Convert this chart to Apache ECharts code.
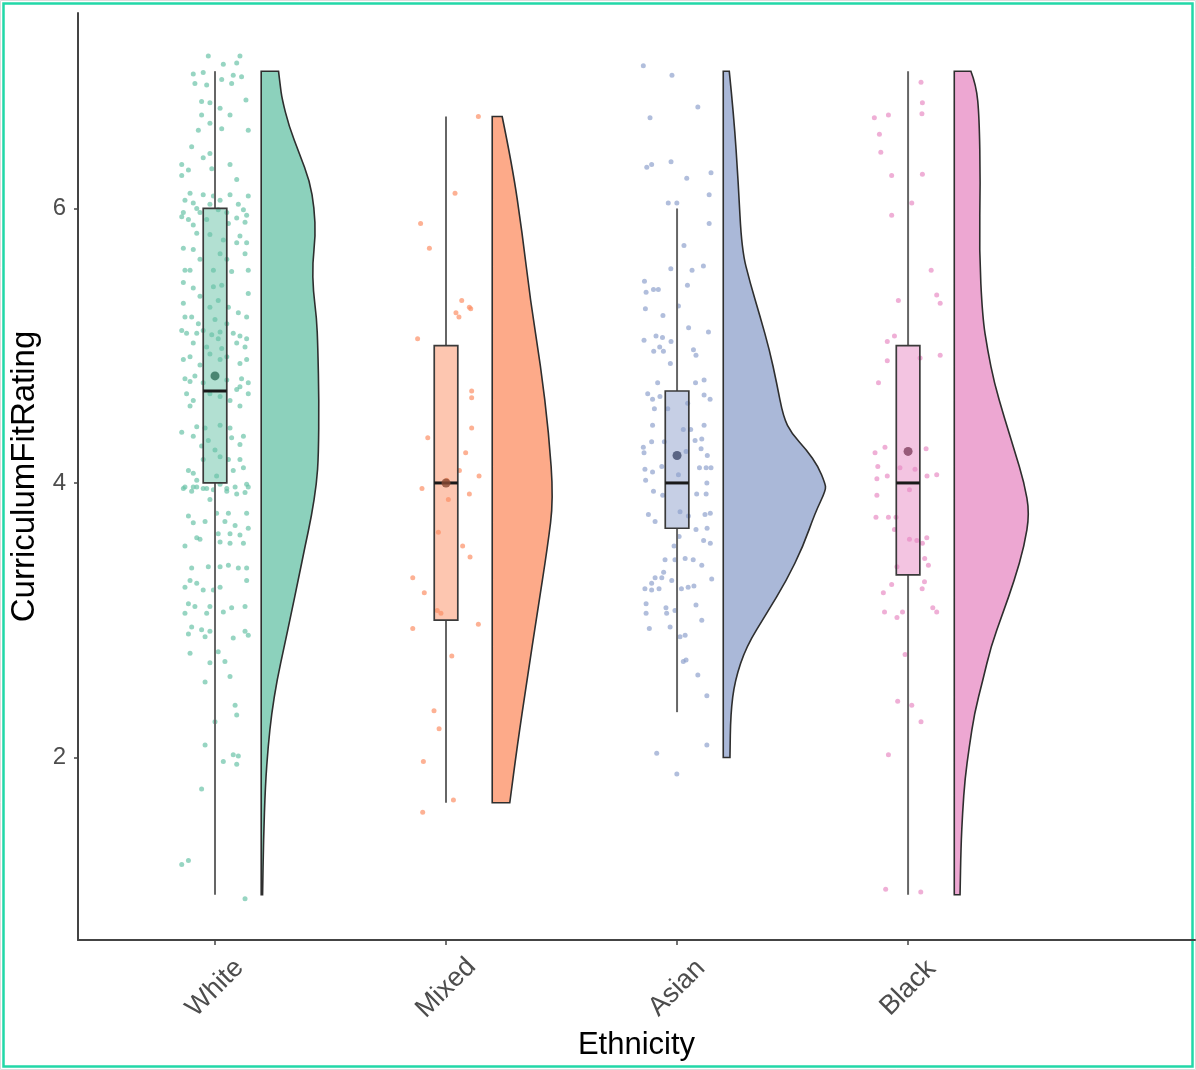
<!DOCTYPE html>
<html>
<head>
<meta charset="utf-8">
<script src="https://cdn.jsdelivr.net/npm/echarts@6/dist/echarts.min.js"></script>
<style>
  html, body { margin: 0; padding: 0; background: #fff; }
  #chart { width: 1196px; height: 1070px; }
</style>
</head>
<body>
<div id="chart"></div>
<script>
const categories = ['White', 'Mixed', 'Asian', 'Black']
const yTicks = [2, 4, 6]
const colors = ['#66C2A5', '#FC8D62', '#8DA0CB', '#E78AC3']
const meanColors = ['#2f6f5a', '#8a4a33', '#3f4a6b', '#80405f']

// box stats per group
const boxLow = [1, 1.67, 2.33, 1]
const boxQ1 = [4, 3, 3.67, 3.33]
const boxMedian = [4.67, 4, 4, 4]
const boxQ3 = [6, 5, 4.67, 5]
const boxHigh = [7, 6.67, 6, 7]
const groupMeans = [4.78, 4.0, 4.2, 4.23]

// half violins: [rating, half width in x units]
const whiteViolin = [[7.0, 0.075], [6.9, 0.082], [6.8, 0.09], [6.6, 0.12], [6.4, 0.165], [6.2, 0.21], [6.0, 0.23], [5.8, 0.235],
  [5.6, 0.222], [5.4, 0.225], [5.2, 0.24], [5.0, 0.245], [4.6, 0.25], [4.2, 0.248], [4.0, 0.24], [3.76, 0.218],
  [3.54, 0.19], [3.29, 0.16], [3.05, 0.13], [2.81, 0.1], [2.56, 0.068], [2.32, 0.045], [2.08, 0.03], [1.8, 0.018], [1.4, 0.01], [1.0, 0.006]]
const mixedViolin = [[6.67, 0.043], [6.31, 0.087], [5.82, 0.13], [5.33, 0.165], [4.85, 0.21], [4.36, 0.245], [3.88, 0.265],
  [3.54, 0.24], [3.05, 0.195], [2.56, 0.15], [2.08, 0.108], [1.67, 0.076]]
const asianViolin = [[7.0, 0.026], [6.67, 0.046], [6.19, 0.065], [5.7, 0.08], [5.46, 0.116], [5.21, 0.16], [4.97, 0.2],
  [4.73, 0.231], [4.48, 0.26], [4.36, 0.296], [4.24, 0.361], [4.12, 0.411], [4.0, 0.44], [3.95, 0.445], [3.78, 0.397],
  [3.54, 0.346], [3.29, 0.274], [3.05, 0.188], [2.81, 0.1], [2.56, 0.05], [2.32, 0.032], [2.0, 0.029]]
const blackViolin = [[7.0, 0.072], [6.9, 0.095], [6.67, 0.108], [6.19, 0.113], [5.7, 0.108], [5.21, 0.122], [4.97, 0.144],
  [4.73, 0.173], [4.48, 0.216], [4.24, 0.26], [4.0, 0.303], [3.78, 0.326], [3.54, 0.303], [3.29, 0.26], [3.05, 0.21],
  [2.81, 0.159], [2.56, 0.123], [2.32, 0.087], [2.08, 0.065], [1.84, 0.046], [1.6, 0.036], [1.35, 0.029], [1.0, 0.025]]
const violins = [whiteViolin, mixedViolin, asianViolin, blackViolin]

// jittered raw points: [x offset from group centre, rating]
const whitePoints = [[-0.029, 7.11], [0.108, 7.11], [0.094, 7.06], [0.036, 7.05], [-0.051, 6.99], [-0.094, 6.98], [0.079, 6.97],
  [-0.087, 6.91], [-0.036, 6.90], [0.029, 6.94], [0.072, 6.91], [0.115, 6.96], [-0.058, 6.78], [-0.022, 6.77], [0.134, 6.79],
  [0.022, 6.73], [0.065, 6.68], [-0.058, 6.68], [-0.022, 6.62], [0.029, 6.58], [-0.072, 6.57], [0.144, 6.57], [-0.101, 6.45],
  [-0.022, 6.40], [-0.051, 6.37], [0.065, 6.32], [-0.144, 6.32], [-0.115, 6.28], [-0.014, 6.29], [-0.144, 6.24], [0.094, 6.21],
  [-0.108, 6.11], [-0.051, 6.10], [-0.007, 6.09], [0.065, 6.10], [0.144, 6.09], [-0.13, 6.06], [-0.094, 6.04], [-0.022, 6.03],
  [0.022, 6.06], [0.101, 6.03], [0.123, 5.99], [-0.137, 5.97], [-0.079, 6.00], [0.051, 5.97], [0.137, 5.95], [-0.115, 5.92],
  [-0.036, 5.92], [0.094, 5.93], [0.13, 5.90], [-0.094, 5.88], [0.058, 5.89], [-0.144, 5.94], [-0.065, 5.97], [0.014, 5.99],
  [-0.079, 5.82], [-0.022, 5.81], [0.108, 5.80], [0.137, 5.75], [0.036, 5.77], [-0.137, 5.71], [-0.094, 5.70], [0.022, 5.67],
  [0.094, 5.75], [0.13, 5.67], [-0.065, 5.63], [0.051, 5.63], [-0.13, 5.55], [-0.108, 5.55], [-0.007, 5.55], [0.072, 5.54],
  [0.144, 5.55], [-0.137, 5.46], [-0.094, 5.42], [-0.007, 5.43], [0.029, 5.44], [0.144, 5.38], [-0.065, 5.36], [0.014, 5.33],
  [-0.137, 5.31], [-0.022, 5.28], [0.058, 5.28], [-0.101, 5.21], [-0.13, 5.21], [0.101, 5.24], [0.137, 5.21], [0, 5.19],
  [-0.072, 5.16], [0.051, 5.16], [-0.051, 5.11], [0.022, 5.10], [-0.144, 5.11], [-0.123, 5.09], [-0.079, 5.09], [-0.014, 5.08],
  [0.014, 5.05], [0.079, 5.09], [0.108, 5.07], [0.137, 5.05], [-0.094, 5.02], [-0.036, 4.99], [0.029, 4.98], [0.094, 5.02],
  [0.13, 4.99], [-0.108, 4.92], [-0.137, 4.90], [-0.022, 4.94], [0.051, 4.92], [-0.065, 4.86], [0.022, 4.90], [0.108, 4.87],
  [0.137, 4.90], [-0.13, 4.76], [-0.108, 4.74], [-0.087, 4.78], [-0.051, 4.73], [0.051, 4.75], [0.115, 4.76], [0.144, 4.73],
  [0.108, 4.70], [-0.123, 4.65], [-0.094, 4.60], [-0.022, 4.65], [0.022, 4.63], [0.094, 4.68], [0.144, 4.65], [0.065, 4.60],
  [-0.108, 4.56], [0.108, 4.56], [-0.144, 4.37], [-0.079, 4.41], [-0.043, 4.40], [0.022, 4.42], [0.065, 4.40], [0.123, 4.34],
  [-0.094, 4.34], [-0.029, 4.31], [0.072, 4.33], [-0.058, 4.27], [0, 4.24], [0.108, 4.28], [0.022, 4.19], [0.058, 4.17],
  [-0.051, 4.17], [0.108, 4.17], [-0.115, 4.09], [-0.094, 4.07], [-0.079, 4.02], [0.007, 4.05], [0.079, 4.09], [0.123, 4.11],
  [-0.13, 3.97], [-0.079, 3.97], [-0.036, 3.96], [0.022, 3.99], [0.087, 3.97], [0.137, 3.99], [-0.101, 3.94], [0.051, 3.94],
  [0.13, 3.93], [-0.137, 3.96], [-0.094, 3.97], [-0.051, 3.96], [-0.007, 3.95], [0.051, 3.96], [0.094, 3.92], [0.144, 3.97],
  [-0.022, 3.88], [-0.115, 3.76], [0.007, 3.78], [0.058, 3.78], [0.137, 3.78], [-0.094, 3.71], [-0.043, 3.72], [0.043, 3.72],
  [0.087, 3.69], [0.144, 3.67], [-0.13, 3.54], [-0.079, 3.60], [-0.065, 3.59], [0.014, 3.63], [0.065, 3.63], [0.108, 3.62],
  [0.123, 3.56], [0.022, 3.57], [0.065, 3.56], [-0.101, 3.38], [-0.029, 3.39], [0.022, 3.39], [0.058, 3.40], [0.101, 3.38],
  [0.137, 3.38], [-0.108, 3.29], [-0.079, 3.27], [-0.051, 3.22], [-0.007, 3.22], [0.022, 3.24], [0.137, 3.29], [-0.13, 3.24],
  [-0.115, 3.12], [-0.087, 3.10], [-0.022, 3.10], [-0.13, 3.05], [-0.036, 3.05], [0.036, 3.06], [0.072, 3.09], [0.13, 3.10],
  [-0.101, 2.95], [-0.058, 2.93], [-0.022, 2.92], [-0.115, 2.90], [-0.043, 2.88], [0.079, 2.87], [0.13, 2.92], [0.144, 2.89],
  [-0.108, 2.76], [0.014, 2.77], [-0.022, 2.69], [0.043, 2.70], [-0.043, 2.55], [0.065, 2.59], [0.087, 2.38], [0.094, 2.31],
  [0, 2.26], [-0.043, 2.09], [0.036, 1.97], [0.079, 2.02], [0.101, 2.01], [0.094, 1.95], [-0.058, 1.77], [-0.144, 1.22],
  [-0.115, 1.25], [0.13, 0.97]]
const mixedPoints = [[0.14, 6.67], [0.039, 6.11], [-0.11, 5.89], [-0.072, 5.71], [0.068, 5.33], [0.043, 5.24], [0.056, 5.21],
  [0.101, 5.28], [0.107, 5.27], [-0.123, 5.05], [0.111, 4.67], [0.111, 4.62], [0.111, 4.40], [-0.079, 4.33], [0.085, 4.22],
  [0.058, 4.09], [0.143, 4.05], [-0.104, 3.96], [0.003, 4.02], [0.101, 3.92], [0.01, 3.88], [-0.033, 3.64], [0.072, 3.54],
  [0.104, 3.46], [-0.144, 3.31], [-0.094, 3.20], [-0.038, 3.07], [-0.022, 3.05], [-0.144, 2.94], [0.14, 2.97], [0.025, 2.74],
  [-0.052, 2.34], [-0.03, 2.21], [-0.098, 1.97], [0.032, 1.69], [-0.101, 1.60]]
const asianPoints = [[-0.146, 7.04], [-0.022, 6.97], [0.09, 6.74], [-0.117, 6.66], [-0.131, 6.30], [-0.11, 6.32], [-0.026, 6.34],
  [0.042, 6.22], [0.147, 6.26], [0.139, 6.10], [-0.038, 6.04], [-0.001, 6.04], [0.139, 5.89], [0.03, 5.73], [-0.027, 5.56],
  [0.065, 5.55], [0.114, 5.58], [-0.141, 5.47], [-0.134, 5.39], [-0.102, 5.41], [-0.081, 5.41], [0.045, 5.44], [-0.137, 5.27],
  [-0.061, 5.22], [0.006, 5.29], [0.05, 5.13], [0.136, 5.10], [-0.143, 5.04], [-0.091, 5.07], [-0.063, 5.06], [-0.026, 5.03],
  [-0.101, 4.96], [-0.075, 4.99], [-0.059, 4.96], [0.071, 4.97], [0.082, 4.93], [-0.029, 4.87], [-0.084, 4.73], [0.08, 4.73],
  [0.117, 4.75], [-0.127, 4.65], [-0.106, 4.61], [-0.074, 4.63], [0.117, 4.64], [0.143, 4.61], [-0.098, 4.54], [-0.04, 4.54],
  [0.046, 4.58], [-0.106, 4.42], [0.027, 4.39], [0.059, 4.39], [0.117, 4.42], [-0.11, 4.30], [-0.055, 4.30], [0.107, 4.32],
  [0.078, 4.31], [-0.146, 4.26], [-0.143, 4.22], [0.104, 4.25], [0.131, 4.20], [0.039, 4.23], [-0.139, 4.10], [-0.106, 4.08],
  [-0.066, 4.12], [0.097, 4.11], [0.126, 4.11], [0.147, 4.11], [-0.136, 4.02], [-0.102, 3.94], [-0.062, 3.91], [0.006, 4.06],
  [0.085, 3.92], [0.126, 3.92], [0.129, 4.00], [-0.124, 3.77], [-0.095, 3.72], [0.013, 3.79], [0.049, 3.76], [0.121, 3.77],
  [0.144, 3.78], [0.082, 3.66], [0.13, 3.67], [0.009, 3.61], [0.115, 3.58], [0.144, 3.56], [-0.013, 3.54], [-0.052, 3.44],
  [-0.009, 3.44], [0.035, 3.45], [0.07, 3.44], [0.107, 3.40], [-0.058, 3.35], [-0.095, 3.31], [-0.066, 3.31], [-0.11, 3.27],
  [-0.023, 3.29], [0.15, 3.30], [-0.139, 3.23], [-0.11, 3.22], [-0.078, 3.23], [0.019, 3.23], [0.048, 3.24], [0.073, 3.25],
  [-0.134, 3.12], [-0.134, 3.05], [-0.048, 3.09], [-0.045, 3.05], [-0.009, 3.07], [0.082, 3.11], [0.107, 3.00], [-0.12, 2.94],
  [-0.03, 2.95], [0.013, 2.88], [0.035, 2.89], [0.027, 2.70], [0.039, 2.71], [0.09, 2.60], [0.129, 2.45], [0.129, 2.09],
  [-0.088, 2.03], [-0.001, 1.88]]
const blackPoints = [[0.056, 6.92], [0.062, 6.77], [-0.085, 6.68], [-0.146, 6.66], [0.06, 6.69], [-0.124, 6.54], [-0.118, 6.41],
  [-0.071, 6.24], [0.062, 6.25], [0.016, 6.04], [-0.071, 5.95], [0.1, 5.55], [-0.042, 5.33], [0.124, 5.37], [0.139, 5.31],
  [-0.059, 5.07], [-0.09, 5.03], [-0.09, 4.89], [0.052, 4.91], [0.139, 4.93], [-0.128, 4.73], [-0.1, 4.26], [-0.143, 4.22],
  [0.078, 4.25], [-0.131, 4.12], [-0.135, 4.03], [-0.09, 4.05], [-0.035, 4.11], [0.03, 4.10], [0.082, 4.05], [0.124, 4.06],
  [-0.135, 3.91], [0.006, 3.95], [-0.139, 3.75], [-0.085, 3.75], [-0.052, 3.75], [-0.059, 3.66], [0.006, 3.59], [0.038, 3.58],
  [0.062, 3.56], [0.081, 3.60], [0.072, 3.45], [0.088, 3.40], [-0.048, 3.39], [-0.071, 3.26], [-0.107, 3.20], [0.071, 3.28],
  [0.061, 3.23], [-0.102, 3.06], [-0.048, 3.02], [-0.024, 3.06], [0.107, 3.09], [0.124, 3.06], [-0.013, 2.75], [-0.045, 2.41],
  [0.016, 2.38], [0.056, 2.26], [-0.085, 2.02], [-0.097, 1.04], [0.055, 1.02]]
const groupPoints = [whitePoints, mixedPoints, asianPoints, blackPoints]

const FONT = "'Liberation Sans', Arial, sans-serif"
const VIOLIN_OFFSET = 0.2
const BOX_HALF = 0.051

const hexA = (hex, a) => {
  const n = parseInt(hex.slice(1), 16)
  return `rgba(${n >> 16},${(n >> 8) & 255},${n & 255},${a})`
}

const chart = echarts.init(document.getElementById('chart'))

const violinItem = (params, api) => {
  const i = params.dataIndex
  const c = api.value(0)
  const prof = violins[i]
  const base = c + VIOLIN_OFFSET
  const pts = prof.map(([y, w]) => api.coord([base + w, y]))
  const b0 = api.coord([base, prof[0][0]])
  const b1 = api.coord([base, prof[prof.length - 1][0]])
  let d = `M${b0[0]},${b0[1]} L${pts[0][0]},${pts[0][1]}`
  for (let k = 1; k < pts.length - 1; k++) {
    const mx = (pts[k][0] + pts[k + 1][0]) / 2
    const my = (pts[k][1] + pts[k + 1][1]) / 2
    d += ` Q${pts[k][0]},${pts[k][1]} ${mx},${my}`
  }
  const last = pts[pts.length - 1]
  d += ` L${last[0]},${last[1]} L${b1[0]},${b1[1]} Z`
  return {
    type: 'path',
    shape: { pathData: d },
    style: { fill: hexA(colors[i], 0.75), stroke: '#2e2e2e', lineWidth: 1.6 }
  }
}

const boxItem = (params, api) => {
  const i = params.dataIndex
  const c = api.value(0)
  const lo = api.coord([c, boxLow[i]])
  const q1 = api.coord([c, boxQ1[i]])
  const q3 = api.coord([c, boxQ3[i]])
  const hi = api.coord([c, boxHigh[i]])
  const tl = api.coord([c - BOX_HALF, boxQ3[i]])
  const br = api.coord([c + BOX_HALF, boxQ1[i]])
  const ml = api.coord([c - BOX_HALF, boxMedian[i]])
  const mr = api.coord([c + BOX_HALF, boxMedian[i]])
  const whisker = { stroke: '#666', lineWidth: 2 }
  return {
    type: 'group',
    children: [
      { type: 'line', shape: { x1: lo[0], y1: lo[1], x2: q1[0], y2: q1[1] }, style: whisker },
      { type: 'line', shape: { x1: q3[0], y1: q3[1], x2: hi[0], y2: hi[1] }, style: whisker },
      {
        type: 'rect',
        shape: { x: tl[0], y: tl[1], width: br[0] - tl[0], height: br[1] - tl[1] },
        style: { fill: hexA(colors[i], 0.5), stroke: '#3a3a3a', lineWidth: 1.7 }
      },
      { type: 'line', shape: { x1: ml[0], y1: ml[1], x2: mr[0], y2: mr[1] }, style: { stroke: '#1a1a1a', lineWidth: 3 } }
    ]
  }
}

const pointSeries = groupPoints.map((pts, i) => ({
  type: 'scatter',
  name: categories[i],
  z: 1,
  symbolSize: 5,
  itemStyle: { color: hexA(colors[i], 0.85) },
  silent: true,
  data: pts.map(([dx, y]) => [i + 1 + dx, y])
}))

const option = {
  animation: false,
  backgroundColor: '#fff',
  grid: { left: 78, right: 1, top: 13, bottom: 130 },
  xAxis: {
    type: 'value',
    min: 0.407,
    max: 5.242,
    name: 'Ethnicity',
    nameLocation: 'middle',
    nameGap: 87,
    nameTextStyle: { fontSize: 31, color: '#000', fontFamily: FONT },
    splitLine: { show: false },
    axisLine: { onZero: false, lineStyle: { color: '#444', width: 2 } },
    axisTick: { customValues: [1, 2, 3, 4], length: 5, lineStyle: { color: '#444', width: 1.5 } },
    axisLabel: {
      customValues: [1, 2, 3, 4],
      formatter: v => categories[Math.round(v) - 1],
      rotate: 45,
      align: 'center',
      verticalAlign: 'middle',
      margin: 48,
      fontSize: 27,
      color: '#4d4d4d',
      fontFamily: FONT
    }
  },
  yAxis: {
    type: 'value',
    min: 0.67,
    max: 7.424,
    name: 'CurriculumFitRating',
    nameLocation: 'middle',
    nameGap: 32,
    nameTextStyle: { fontSize: 33, color: '#000', fontFamily: FONT },
    splitLine: { show: false },
    axisLine: { show: true, lineStyle: { color: '#444', width: 2 } },
    axisTick: { show: true, customValues: yTicks, length: 4, lineStyle: { color: '#444', width: 1.5 } },
    axisLabel: { customValues: yTicks, margin: 12, fontSize: 24, color: '#4d4d4d', fontFamily: FONT }
  },
  graphic: [
    { type: 'rect', shape: { x: 0.5, y: 0.5, width: 1195, height: 1069 }, style: { fill: null, stroke: '#dcdcdc', lineWidth: 1 } },
    { type: 'rect', shape: { x: 3.5, y: 3.5, width: 1189, height: 1063 }, style: { fill: null, stroke: '#22d8a8', lineWidth: 2.5 } }
  ],
  series: [
    ...pointSeries,
    {
      type: 'custom',
      name: 'box',
      z: 2,
      silent: true,
      renderItem: boxItem,
      data: categories.map((_, i) => [i + 1])
    },
    {
      type: 'custom',
      name: 'violin',
      z: 2,
      silent: true,
      renderItem: violinItem,
      data: categories.map((_, i) => [i + 1])
    },
    {
      type: 'scatter',
      name: 'mean',
      z: 3,
      symbolSize: 9,
      silent: true,
      data: groupMeans.map((m, i) => ({ value: [i + 1, m], itemStyle: { color: meanColors[i] } }))
    }
  ]
}

chart.setOption(option)
</script>
</body>
</html>
